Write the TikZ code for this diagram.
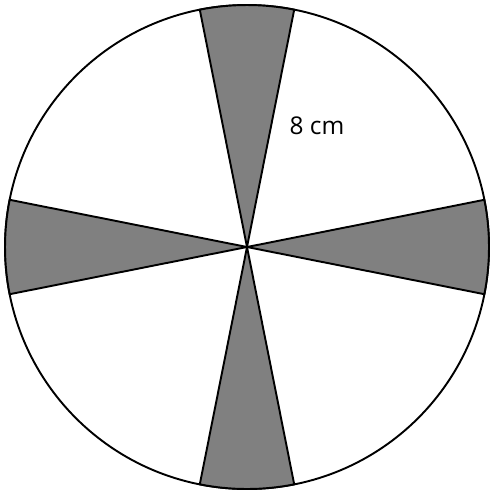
\documentclass[tikz,border=0pt]{standalone}
\usepackage{fontspec}
\setmainfont{Open Sans}
\usepackage{tikz}
\usetikzlibrary{calc}
\definecolor{slicegray}{RGB}{128,128,128}

\begin{document}
\begin{tikzpicture}[line width=0.9pt, line join=round]
        \tikzset{
            wheel/.style={draw=black, fill=white},
            slice/.style={draw=black, fill=slicegray},
            lbl/.style={font=\fontsize{11.5}{13}\selectfont, inner sep=0pt}
        }
        \useasboundingbox (-4.083,-4.033) rectangle (4.033,4.083);

        % Outer circle
        \coordinate (centre) at (0,0);
        \draw[wheel] (centre) circle (4);

        % Shaded sectors
        \foreach \ang in {0,90,180,270} {
            \draw[slice] (centre) -- ($(centre)+(\ang-11.25:4)$)
                arc[start angle=\ang-11.25, end angle=\ang+11.25, radius=4] -- cycle;
        }

        % Radius label
        \node[lbl] (radius) at (1.157,2.0) {8 cm};
    \end{tikzpicture}
\end{document}
